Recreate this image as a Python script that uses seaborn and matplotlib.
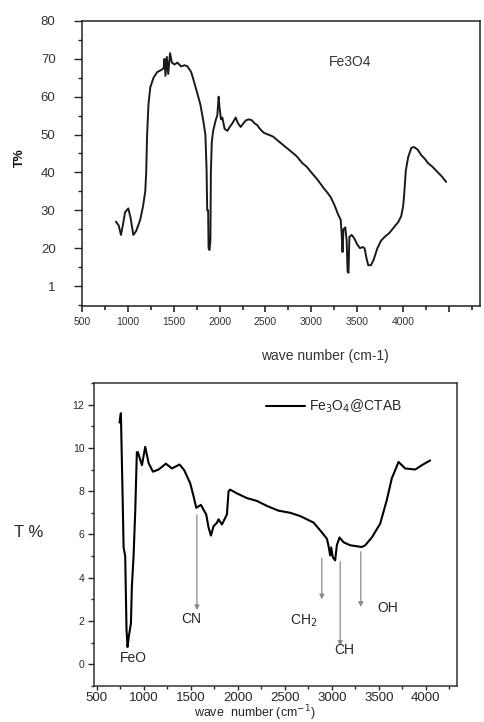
# FTIR spectra: Fe3O4 and Fe3O4@CTAB

import pandas as pd
import seaborn as sns
from matplotlib import pyplot as plt
from matplotlib.ticker import MultipleLocator

# top panel, Fe3O4
fe_wave = [870, 900, 925, 945, 970, 1005, 1030, 1060, 1090, 1135, 1165, 1190, 1200, 1210,
           1225, 1245, 1280, 1320, 1360, 1390, 1400, 1410, 1425, 1440, 1460, 1480, 1510,
           1540, 1580, 1620, 1650, 1690, 1715, 1750, 1790, 1820, 1845, 1858, 1865, 1875,
           1880, 1890, 1900, 1905, 1915, 1930, 1960, 1975, 1990, 2000, 2015, 2030, 2055,
           2085, 2110, 2140, 2175, 2200, 2230, 2260, 2290, 2320, 2350, 2380, 2410, 2440,
           2480, 2530, 2580, 2630, 2680, 2730, 2780, 2830, 2850, 2900, 2950, 3000, 3070,
           3130, 3180, 3210, 3250, 3290, 3320, 3330, 3340, 3350, 3370, 3385, 3395, 3405,
           3415, 3440, 3470, 3500, 3530, 3560, 3580, 3600, 3620, 3650, 3680, 3720, 3760,
           3800, 3850, 3900, 3950, 3980, 4000, 4010, 4030, 4055, 4090, 4120, 4160, 4200,
           4240, 4270, 4320, 4380, 4420, 4470]
fe_trans = [27, 26, 23.5, 26, 29.5, 30.5, 28, 23.5, 24.5, 27.5, 31, 35, 40, 50,
            58, 62.5, 65, 66.5, 67, 67.5, 70, 65.5, 70.5, 66, 71.5, 69, 68.5,
            69, 68, 68.3, 68, 66.5, 64.5, 61.5, 58, 54, 50, 41, 30, 30,
            20, 19.5, 22, 40, 48, 51, 54, 55, 60, 57, 54, 54.5, 51.5,
            51, 52, 53, 54.5, 53, 52, 53, 53.8, 54, 53.8, 53, 52.5, 51.5,
            50.5, 50, 49.5, 48.5, 47.5, 46.5, 45.5, 44.5, 44, 42.5, 41.5, 40, 38,
            36, 34.5, 33.5, 31.5, 29, 27.5, 24, 19, 25, 25.5, 22, 14, 13.5,
            23, 23.5, 22.5, 21, 20, 20.3, 20, 17.5, 15.5, 15.5, 17, 20, 22,
            23, 24, 25.5, 27, 28.5, 31, 33.5, 40.5, 44, 46.5, 46.7, 46, 44.5,
            43.5, 42.5, 41.5, 40, 39, 37.5]
top_xticks = [500, 1000, 1500, 2000, 2500, 3000, 3500, 4000, 4500]
top_xticklabels = ['500', '1000', '1500', '2000', '2500', '3000', '3500', '4000', '']
top_yticks = [10, 20, 30, 40, 50, 60, 70, 80]
top_yticklabels = ['1', '20', '30', '40', '50', '60', '70', '80']

# bottom panel, Fe3O4@CTAB
ctab_wave = [741, 755, 770, 784, 801, 815, 826, 840, 862, 872, 890, 908, 925, 936, 979,
             1014, 1050, 1096, 1156, 1234, 1298, 1380, 1429, 1493, 1528, 1557, 1606,
             1663, 1688, 1713, 1741, 1777, 1794, 1830, 1883, 1901, 1918, 1989, 2096,
             2202, 2308, 2432, 2557, 2663, 2805, 2893, 2947, 2964, 2982, 2993, 3010,
             3035, 3053, 3081, 3124, 3195, 3319, 3355, 3425, 3514, 3585, 3638, 3674,
             3709, 3780, 3887, 3957, 4046]
ctab_trans = [11.17, 11.6, 8.5, 5.4, 5.0, 1.6, 0.8, 1.3, 1.9, 3.6, 5.0, 7.1, 9.8, 9.8, 9.2,
              10.05, 9.3, 8.9, 9.0, 9.27, 9.05, 9.23, 8.97, 8.36, 7.77, 7.23, 7.37,
              6.92, 6.32, 5.95, 6.38, 6.54, 6.7, 6.46, 6.92, 8.0, 8.07, 7.9, 7.68,
              7.55, 7.32, 7.1, 7.0, 6.85, 6.55, 6.1, 5.8, 5.48, 5.03, 5.4, 4.95,
              4.8, 5.5, 5.86, 5.64, 5.5, 5.42, 5.5, 5.86, 6.5, 7.6, 8.6, 8.97,
              9.35, 9.05, 9.0, 9.2, 9.42]

# band annotations: label, arrow x, arrow start y, arrow end y, text x, text y
band_names = ['CN', 'CH$_2$', 'CH', 'OH']
band_x = [1564, 2893, 3089, 3308]
band_y_from = [6.9, 4.9, 4.75, 5.2]
band_y_to = [2.5, 3.0, 0.85, 2.65]
band_text_x = [1500, 2700, 3130, 3590]
band_text_y = [2.1, 2.0, 0.65, 2.6]

sns.set_style('ticks')
plt.rcParams['font.family'] = ['Liberation Sans', 'DejaVu Sans']

fig = plt.figure(figsize=(4.85, 7.22), dpi=100)

# ---- top panel
ax1 = fig.add_axes([0.169, 0.576, 0.821, 0.395])
df_fe = pd.DataFrame({'wave': fe_wave, 'T': fe_trans})
sns.lineplot(data=df_fe, x='wave', y='T', ax=ax1, color='#1a1a1a', linewidth=1.4,
             estimator=None, sort=False)
ax1.set_xlim(500, 4840)
ax1.set_ylim(4.7, 80)
ax1.set_xticks(top_xticks)
ax1.set_xticklabels(top_xticklabels)
ax1.set_yticks(top_yticks)
ax1.set_yticklabels(top_yticklabels)
ax1.xaxis.set_minor_locator(MultipleLocator(250))
ax1.yaxis.set_minor_locator(MultipleLocator(5))
ax1.tick_params(axis='x', which='major', length=4, width=1.2, labelsize=7.5,
                labelcolor='#333333', pad=4)
ax1.tick_params(axis='x', which='minor', length=3, width=1.2)
ax1.tick_params(axis='y', which='major', length=6, width=1, labelsize=9.5,
                labelcolor='#333333', pad=13)
ax1.tick_params(axis='y', which='minor', length=3, width=1)
for s in ax1.spines.values():
    s.set_linewidth(1.1)
    s.set_color('#222222')
ax1.set_xlabel('wave number (cm-1)', fontsize=10, color='#333333')
ax1.xaxis.set_label_coords(0.61, -0.15)
ax1.set_ylabel('T%', fontsize=9, fontweight='bold', color='#111111')
ax1.yaxis.set_label_coords(-0.14, 0.52)
ax1.text(3423, 69.2, 'Fe3O4', fontsize=10, color='#333333', ha='center', va='center')

# ---- bottom panel
ax2 = fig.add_axes([0.194, 0.0499, 0.748, 0.4197])
df_ctab = pd.DataFrame({'wave': ctab_wave, 'T': ctab_trans})
sns.lineplot(data=df_ctab, x='wave', y='T', ax=ax2, color='black', linewidth=1.5,
             estimator=None, sort=False, label='Fe$_3$O$_4$@CTAB')
ax2.set_xlim(470, 4330)
ax2.set_ylim(-1, 13)
ax2.set_xticks([500, 1000, 1500, 2000, 2500, 3000, 3500, 4000])
ax2.set_yticks([0, 2, 4, 6, 8, 10, 12])
ax2.xaxis.set_minor_locator(MultipleLocator(250))
ax2.yaxis.set_minor_locator(MultipleLocator(1))
ax2.tick_params(axis='x', which='major', length=3, width=1, labelsize=9.5, pad=1)
ax2.tick_params(axis='x', which='minor', length=2, width=1)
ax2.tick_params(axis='y', which='major', length=4, width=1, labelsize=7.5, pad=3)
ax2.tick_params(axis='y', which='minor', length=2.5, width=1)
for s in ax2.spines.values():
    s.set_linewidth(1.1)
    s.set_color('#333333')
ax2.set_xlabel('wave  number (cm$^{-1}$)', fontsize=9, labelpad=0)
ax2.xaxis.set_label_coords(0.443, -0.058)
ax2.set_ylabel('T %', fontsize=12, rotation=0, ha='center', va='center')
ax2.yaxis.set_label_coords(-0.18, 0.508)

ax2.legend(loc='upper left', bbox_to_anchor=(0.475, 0.95), frameon=False,
           borderpad=0, borderaxespad=0, handlelength=2.8, handletextpad=0.3,
           fontsize=10)

for name, bx, y0, y1, tx, ty in zip(band_names, band_x, band_y_from, band_y_to,
                                    band_text_x, band_text_y):
    ax2.annotate('', xy=(bx, y1), xytext=(bx, y0),
                 arrowprops=dict(arrowstyle='-|>', color='#8c8c8c', lw=0.9,
                                 mutation_scale=7, shrinkA=0, shrinkB=0))
    ax2.text(tx, ty, name, fontsize=10, ha='center', va='center')

ax2.text(890, 0.27, 'FeO', fontsize=10, ha='center', va='center')

plt.savefig('out.png', dpi=100)
